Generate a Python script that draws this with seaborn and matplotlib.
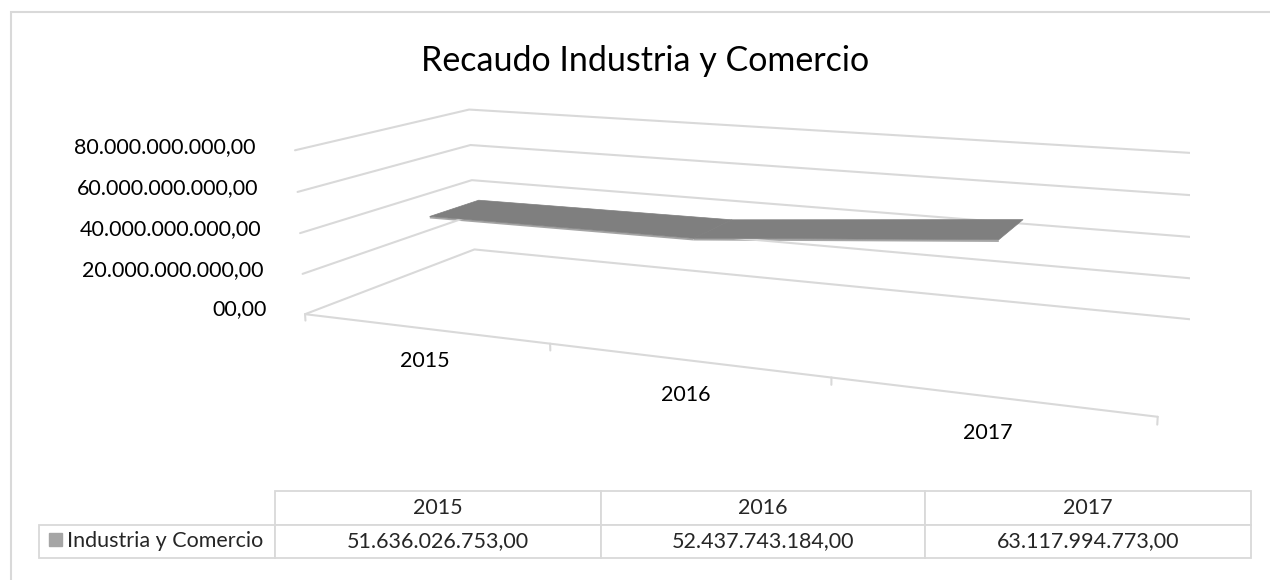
import numpy as np
import pandas as pd
import matplotlib as mpl
mpl.use('Agg')
import matplotlib.pyplot as plt
import seaborn as sns
from matplotlib.patches import Rectangle
from mpl_toolkits.mplot3d.art3d import Poly3DCollection

# ============================================ #
# data
# ============================================ #
years = ['2015', '2016', '2017']
recaudo = [51636026753.00, 52437743184.00, 63117994773.00]
serie = 'Industria y Comercio'
z_ticks = [0, 20e9, 40e9, 60e9, 80e9]
z_ticklabels = ['00,00', '20.000.000.000,00', '40.000.000.000,00',
                '60.000.000.000,00', '80.000.000.000,00']

df = pd.DataFrame({'anio': years, 'valor': recaudo})
df['x'] = np.arange(len(df))

def fmt_es(v):
    # 1234567.5 -> 1.234.567,50
    return f"{v:,.2f}".replace(',', 'X').replace('.', ',').replace('X', '.')

# ============================================ #
# style
# ============================================ #
sns.set_theme(style='white')
plt.rcParams['font.family'] = ['Lato', 'DejaVu Sans']
grid_col = '#d9d9d9'
grey = sns.color_palette(['#7f7f7f', '#a5a5a5'])

W, H = 1270, 580
fig = plt.figure(figsize=(W / 100, H / 100), dpi=100)

# chart border (cut off at right / bottom like the screenshot)
fig.patches.append(Rectangle((11 / W, -0.1), 1.2, (H - 12) / H + 0.1,
                             transform=fig.transFigure, fill=False,
                             edgecolor=grid_col, lw=1.5))

fig.text(0.508, 1 - 61 / H, 'Recaudo Industria y Comercio',
         ha='center', va='center', fontsize=24.5, color='black')

# ============================================ #
# 3d line (ribbon) chart
# ============================================ #
# mplot3d always draws in a square box -> big square axes, centred where the
# plot should sit (it may stick out of the figure)
side, cx, cy = 900, 740, 248
ax = fig.add_axes([(cx - side / 2) / W, (H - cy - side / 2) / H, side / W, side / H],
                  projection='3d', proj_type='persp', focal_length=0.33)
ax.set_facecolor('none')
ax.view_init(elev=12.3, azim=-67.7)
ax.set_box_aspect((969, 366, 192))
ax.set_axis_off()

x0, x1 = -0.5, len(df) - 0.5
y0, y1 = 0.0, 1.0
zmax = z_ticks[-1]
ax.set_xlim(x0, x1)
ax.set_ylim(y0, y1)
ax.set_zlim(0, zmax)

# gridlines on left and back wall
for z in z_ticks:
    ax.plot([x0, x0, x1], [y0, y1, y1], [z, z, z], color=grid_col, lw=1.5)
# category axis along the front edge + tick marks at bin borders
ax.plot([x0, x1], [y0, y0], [0, 0], color=grid_col, lw=1.5)
for xb in np.arange(x0, x1 + 0.01, 1.0):
    ax.plot([xb, xb], [y0, y0], [0, -0.04 * zmax], color=grid_col, lw=1.5)

# value labels left of the wall
for z, lab in zip(z_ticks, z_ticklabels):
    ax.text(x0 - 0.17, y0, z, lab, ha='right', va='center',
            fontsize=15.5, color='black')
# category labels in front of the floor
for xi, lab in zip(df['x'], df['anio']):
    ax.text(xi, y0, -0.14 * zmax, lab, ha='center', va='top',
            fontsize=15.5, color='black')

# ribbon: top surface plus a thin front face
yr0, yr1 = 0.06, 0.34
xs, zs = df['x'].values, df['valor'].values
top, front = [], []
for i in range(len(xs) - 1):
    top.append([(xs[i], yr0, zs[i]), (xs[i + 1], yr0, zs[i + 1]),
                (xs[i + 1], yr1, zs[i + 1]), (xs[i], yr1, zs[i])])
    front.append([(xs[i], yr0, zs[i]), (xs[i + 1], yr0, zs[i + 1]),
                  (xs[i + 1], yr0, zs[i + 1] - 0.012 * zmax),
                  (xs[i], yr0, zs[i] - 0.012 * zmax)])
ax.add_collection3d(Poly3DCollection(front, facecolor=grey[1], edgecolor='none'))
ax.add_collection3d(Poly3DCollection(top, facecolor=grey[0], edgecolor=grey[0],
                                     lw=0.5))

# ============================================ #
# data table
# ============================================ #
ax_tab = fig.add_axes([39 / W, (H - 558) / H, (1251 - 39) / W, 67 / H])
ax_tab.axis('off')
col_w = np.array([236, 326, 324, 326], dtype=float)
cells = [[''] + list(df['anio']), [serie] + [fmt_es(v) for v in df['valor']]]
tab = ax_tab.table(cellText=cells, colWidths=list(col_w / col_w.sum()),
                   cellLoc='center', bbox=[0, 0, 1, 1])
tab.auto_set_font_size(False)
tab.set_fontsize(15.5)
for (r, c), cell in tab.get_celld().items():
    cell.set_edgecolor(grid_col)
    cell.set_linewidth(1.3)
tab[0, 0].set_edgecolor('none')
tab[1, 0].set_text_props(ha='left')
tab[1, 0].PAD = 28 / 236
# legend key for the series
fig.patches.append(Rectangle((49 / W, (H - 546) / H), 13 / W, 13 / H,
                             transform=fig.transFigure, color=grey[1]))

fig.savefig('out.png', dpi=100)
